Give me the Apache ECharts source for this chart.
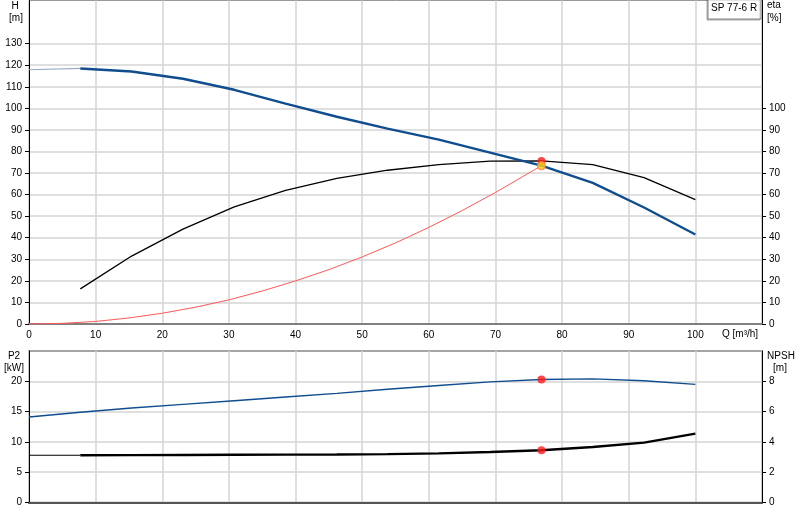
<!DOCTYPE html>
<html><head><meta charset="utf-8">
<script src="https://cdn.jsdelivr.net/npm/echarts@6/dist/echarts.min.js"></script>
<style>html,body{margin:0;padding:0;background:#fff}#c{width:800px;height:520px}</style>
</head><body><div id="c"></div>
<script>
// Pump curve data (Q in m3/h)
const q = [0, 7.7, 15.4, 23.1, 30.8, 38.5, 46.2, 53.8, 61.5, 69.2, 76.9, 84.6, 92.3, 100];
const head = [117.9, 118.5, 117.1, 113.7, 108.6, 102.2, 96.1, 90.6, 85.5, 79.5, 73.4, 65.4, 54.0, 41.5];
const eta = [null, 16.3, 31.5, 44.0, 54.3, 62.0, 67.5, 71.3, 73.9, 75.5, 75.6, 73.9, 67.9, 57.7];
const p2 = [14.1, 14.9, 15.6, 16.2, 16.8, 17.4, 18.0, 18.7, 19.3, 19.9, 20.3, 20.4, 20.1, 19.5];
const npsh = [3.12, 3.12, 3.13, 3.14, 3.15, 3.16, 3.17, 3.19, 3.24, 3.33, 3.45, 3.66, 3.95, 4.55];
// System curve
const qSys = [0, 5, 10, 15, 20, 25, 30, 35, 40, 45, 50, 55, 60, 65, 70, 76.9];
const hSys = [0, 0.3, 1.2, 2.8, 5.0, 7.8, 11.2, 15.3, 20.0, 25.2, 31.1, 37.6, 44.8, 52.6, 61.0, 73.4];
// Duty point
const dutyQ = 76.9, dutyH = 73.4, dutyEta = 75.6, dutyP2 = 20.3, dutyNpsh = 3.45;
// Tick labels
const qTicks = [0, 10, 20, 30, 40, 50, 60, 70, 80, 90, 100];
const hTicks = [0, 10, 20, 30, 40, 50, 60, 70, 80, 90, 100, 110, 120, 130];
const etaTicks = [0, 10, 20, 30, 40, 50, 60, 70, 80, 90, 100];
const p2Ticks = [0, 5, 10, 15, 20];
const npshTicks = [0, 2, 4, 6, 8];
const pumpName = 'SP 77-6 R';

const FONT = "'Liberation Sans', Arial, sans-serif";
const pairs = (xs, ys) => xs.map((x, i) => [x, ys[i]]).filter(p => p[1] !== null);
const headPts = pairs(q, head);
const npshPts = pairs(q, npsh);
const gridLine = { show: true, lineStyle: { color: '#d4d4d4', width: 1.5 } };
const lbl = (ticks, extra) => Object.assign({
  fontFamily: FONT, fontSize: 10, color: '#000',
  formatter: v => ticks.includes(v) ? String(v) : ''
}, extra || {});

function yAx(grid, pos, min, max, interval, ticks, split) {
  return {
    type: 'value', gridIndex: grid, position: pos, min, max, interval,
    axisLine: { show: true, lineStyle: { color: '#000', width: 1 } },
    axisTick: { show: true, length: 4, customValues: ticks, lineStyle: { color: '#000' } },
    axisLabel: lbl(ticks, { margin: 7 }),
    splitLine: split ? gridLine : { show: false }
  };
}

const chart = echarts.init(document.getElementById('c'), null, { renderer: 'canvas' });
chart.setOption({
  animation: false,
  backgroundColor: '#fff',
  grid: [
    { left: 29, right: 38, top: 0.5, height: 323.5, show: true, borderColor: '#999', borderWidth: 1 },
    { left: 29, right: 38, top: 351, height: 151.5, show: true, borderColor: '#888', borderWidth: 1.5 }
  ],
  xAxis: [
    { type: 'value', gridIndex: 0, min: 0, max: 110, interval: 10,
      axisLine: { show: true, lineStyle: { color: '#808080', width: 2 } },
      axisTick: { show: false },
      axisLabel: lbl(qTicks, { margin: 6 }),
      splitLine: gridLine },
    { type: 'value', gridIndex: 1, min: 0, max: 110, interval: 10,
      axisLine: { show: true, lineStyle: { color: '#555', width: 2 } },
      axisTick: { show: false }, axisLabel: { show: false },
      splitLine: gridLine }
  ],
  yAxis: [
    yAx(0, 'left', 0, 150, 10, hTicks, true),
    yAx(0, 'right', 0, 150, 10, etaTicks, false),
    yAx(1, 'left', 0, 25, 5, p2Ticks, true),
    yAx(1, 'right', 0, 10, 2, npshTicks, false)
  ],
  series: [
    { type: 'line', xAxisIndex: 0, yAxisIndex: 0, data: pairs(qSys, hSys), showSymbol: false,
      lineStyle: { color: '#ff5a5a', width: 1 }, z: 3 },
    { type: 'line', xAxisIndex: 0, yAxisIndex: 1, data: pairs(q, eta), showSymbol: false,
      lineStyle: { color: '#000', width: 1.3 }, z: 4 },
    { type: 'line', xAxisIndex: 0, yAxisIndex: 0, data: headPts.slice(0, 2), showSymbol: false,
      lineStyle: { color: '#9aabc2', width: 1.2 }, z: 4 },
    { type: 'line', xAxisIndex: 0, yAxisIndex: 0, data: headPts.slice(1), showSymbol: false,
      lineStyle: { color: '#0f4d8f', width: 2.4 }, z: 5 },
    { type: 'scatter', xAxisIndex: 0, yAxisIndex: 1, data: [[dutyQ, dutyEta]], symbolSize: 8,
      itemStyle: { color: '#ff1a1a' }, z: 6 },
    { type: 'scatter', xAxisIndex: 0, yAxisIndex: 0, data: [[dutyQ, dutyH]], symbolSize: 8,
      itemStyle: { color: '#ffd21a', borderColor: '#ff7a3a', borderWidth: 1.2 }, z: 7 },
    { type: 'line', xAxisIndex: 1, yAxisIndex: 2, data: pairs(q, p2), showSymbol: false,
      lineStyle: { color: '#0f4d8f', width: 1.4 }, z: 4 },
    { type: 'line', xAxisIndex: 1, yAxisIndex: 3, data: npshPts.slice(0, 2), showSymbol: false,
      lineStyle: { color: '#000', width: 1.2 }, z: 4 },
    { type: 'line', xAxisIndex: 1, yAxisIndex: 3, data: npshPts.slice(1), showSymbol: false,
      lineStyle: { color: '#000', width: 2.4 }, z: 5 },
    { type: 'scatter', xAxisIndex: 1, yAxisIndex: 2, data: [[dutyQ, dutyP2]], symbolSize: 8,
      itemStyle: { color: '#ff1a1a' }, z: 6 },
    { type: 'scatter', xAxisIndex: 1, yAxisIndex: 3, data: [[dutyQ, dutyNpsh]], symbolSize: 8,
      itemStyle: { color: '#ff1a1a' }, z: 6 }
  ],
  graphic: [
    { type: 'rect', shape: { x: 708, y: -1, width: 53, height: 20 },
      style: { fill: '#fff', stroke: '#8a8a8a', lineWidth: 1, shadowColor: 'rgba(0,0,0,0.25)', shadowOffsetX: -1, shadowOffsetY: 1, shadowBlur: 1 }, z: 100 },
    { type: 'text', x: 711, y: 3, style: { text: pumpName, font: '10px ' + FONT, fill: '#000' }, z: 101 },
    { type: 'text', x: 15, y: 1, style: { text: 'H', font: '10px ' + FONT, fill: '#000', align: 'center' } },
    { type: 'text', x: 16, y: 13, style: { text: '[m]', font: '10px ' + FONT, fill: '#000', align: 'center' } },
    { type: 'text', x: 767, y: 0, style: { text: 'eta', font: '10px ' + FONT, fill: '#000' } },
    { type: 'text', x: 767, y: 13, style: { text: '[%]', font: '10px ' + FONT, fill: '#000' } },
    { type: 'text', x: 722, y: 329, style: { text: 'Q [m³/h]', font: '10px ' + FONT, fill: '#000' } },
    { type: 'text', x: 14, y: 351, style: { text: 'P2', font: '10px ' + FONT, fill: '#000', align: 'center' } },
    { type: 'text', x: 14, y: 363, style: { text: '[kW]', font: '10px ' + FONT, fill: '#000', align: 'center' } },
    { type: 'text', x: 781, y: 351, style: { text: 'NPSH', font: '10px ' + FONT, fill: '#000', align: 'center' } },
    { type: 'text', x: 780, y: 363, style: { text: '[m]', font: '10px ' + FONT, fill: '#000', align: 'center' } }
  ]
});
</script></body></html>
